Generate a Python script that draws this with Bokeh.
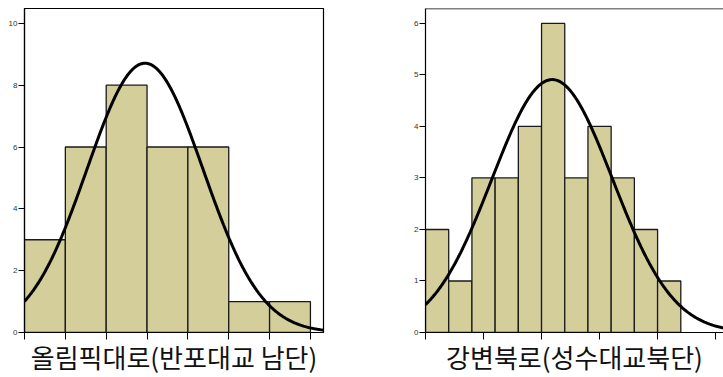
import numpy as np
from bokeh.plotting import figure
from bokeh.layouts import row
from bokeh.models import Span, FixedTicker
from bokeh.embed import file_html
from bokeh.resources import INLINE

# ---- data ----
left_title = "올림픽대로(반포대교 남단)"
left_counts = [3, 6, 8, 6, 6, 1, 1]
left_yticks = [0, 2, 4, 6, 8, 10]
left_fit_mean = 2.95
left_fit_sd = 1.42

right_title = "강변북로(성수대교북단)"
right_counts = [2, 1, 3, 3, 4, 6, 3, 4, 3, 2, 1]
right_yticks = [0, 1, 2, 3, 4, 5, 6]
right_xticks = [0, 2.5, 5, 7.5, 10, 12.5]
right_fit_mean = 5.46
right_fit_sd = 2.60

BAR = "#d4ce9b"
KFONT = "Noto Sans CJK KR"


def normal_curve(counts, mean, sd, x0, x1):
    n = sum(counts)
    xs = np.linspace(x0, x1, 300)
    ys = n / (sd * np.sqrt(2 * np.pi)) * np.exp(-0.5 * ((xs - mean) / sd) ** 2)
    return xs, ys


def make(counts, title, yticks, xticks, xend, yend, width, bl, br, bt, mean, sd, outline):
    p = figure(width=width, height=377, output_backend="svg", toolbar_location=None,
               x_range=(0, xend), y_range=(0, yend),
               min_border_left=bl, min_border_right=br, min_border_top=bt,
               min_border_bottom=44)
    p.grid.visible = False
    p.background_fill_color = "white"
    p.border_fill_color = "white"
    if outline:
        p.outline_line_color = "black"
        p.outline_line_width = 1.2
    else:
        p.outline_line_color = None
        p.add_layout(Span(location=yend, dimension="width", line_color="black", line_width=1.5))
    left = list(range(len(counts)))
    right = [i + 1 for i in left]
    p.quad(left=left, right=right, bottom=0, top=counts, fill_color=BAR,
           line_color="#1a1a1a", line_width=1.3)
    xs, ys = normal_curve(counts, mean, sd, 0, xend)
    p.line(xs, ys, line_color="black", line_width=3)

    ya = p.yaxis[0]
    ya.ticker = FixedTicker(ticks=yticks)
    ya.minor_tick_line_color = None
    ya.major_tick_in = 0
    ya.major_tick_out = 6
    ya.major_label_standoff = 1
    ya.major_label_text_font_size = "8px"
    ya.major_label_text_color = "#333333"
    ya.axis_line_color = "black"
    ya.axis_line_width = 1.2

    xa = p.xaxis[0]
    xa.ticker = FixedTicker(ticks=xticks)
    xa.minor_tick_line_color = None
    xa.major_tick_in = 0
    xa.major_tick_out = 7
    xa.major_label_overrides = {t: "" for t in xticks}
    xa.major_label_text_font_size = "1px"
    xa.major_label_standoff = 0
    xa.axis_line_color = "black"
    xa.axis_line_width = 1.2
    xa.axis_label = title
    xa.axis_label_text_font = KFONT
    xa.axis_label_text_font_size = "26px"
    xa.axis_label_text_font_style = "normal"
    xa.axis_label_text_color = "#111111"
    xa.axis_label_standoff = -2
    return p


p1 = make(left_counts, left_title, left_yticks, list(range(len(left_counts) + 1)),
          7.32, 10.48, 380, 24, 57, 8, left_fit_mean, left_fit_sd, True)
p2 = make(right_counts, right_title, right_yticks, right_xticks,
          12.84, 6.29, 343, 45, 0, 7, right_fit_mean, right_fit_sd, False)

p = row(p1, p2)
open("out.html", "w").write(file_html(p, INLINE))
